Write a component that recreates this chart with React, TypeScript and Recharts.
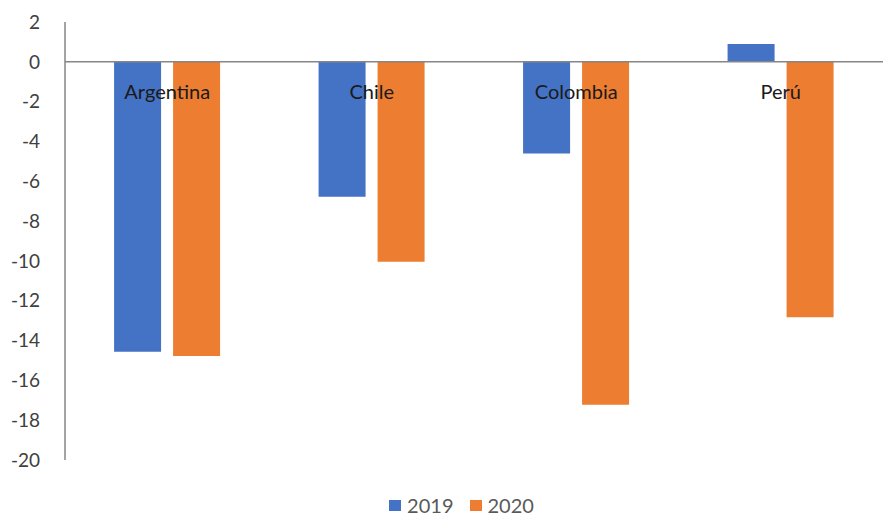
import { BarChart, Bar, XAxis, YAxis, ReferenceLine, Legend } from 'recharts';

const countries = ['Argentina', 'Chile', 'Colombia', 'Perú'];
const values2019 = [-14.56, -6.78, -4.61, 0.9];
const values2020 = [-14.77, -10.04, -17.22, -12.83];
const yTicks = [2, 0, -2, -4, -6, -8, -10, -12, -14, -16, -18, -20];

const BLUE = '#4472c4';
const ORANGE = '#ed7d31';
const FONT = 'Lato, "Open Sans", sans-serif';

const data = countries.map((name, i) => ({
  name,
  y2019: values2019[i],
  y2020: values2020[i],
}));

function CountryTick(props: any) {
  const { x, y, payload } = props;
  return (
    <text x={x} y={y} dy={85} textAnchor="middle" fill="#1a1a1a" fontSize={20} fontFamily={FONT}>
      {payload.value}
    </text>
  );
}

function LegendContent() {
  const items = [
    { label: '2019', color: BLUE },
    { label: '2020', color: ORANGE },
  ];
  return (
    <div
      style={{
        display: 'flex',
        justifyContent: 'center',
        gap: 16,
        paddingLeft: 40,
        fontFamily: FONT,
        fontSize: 20,
        lineHeight: '24px',
        color: '#595959',
        height: 24,
        alignItems: 'center',
      }}
    >
      {items.map((it) => (
        <span key={it.label} style={{ display: 'flex', alignItems: 'center' }}>
          <span style={{ width: 12, height: 11, background: it.color, marginRight: 6, display: 'inline-block' }} />
          {it.label}
        </span>
      ))}
    </div>
  );
}

export default function App() {
  return (
    <div style={{ position: 'absolute', left: 0, top: 0, background: '#fff' }}>
      <BarChart
        width={883}
        height={517}
        data={data}
        margin={{ top: 2, right: 0, left: 0, bottom: 33 }}
        barCategoryGap="24%"
        barGap={12}
      >
        <XAxis
          dataKey="name"
          orientation="top"
          height={20}
          axisLine={false}
          tickLine={false}
          tick={<CountryTick />}
          interval={0}
        />
        <YAxis
          domain={[-20, 2]}
          ticks={yTicks}
          interval={0}
          width={65}
          axisLine={{ stroke: '#868686', strokeWidth: 1.5 }}
          tickLine={false}
          tick={{ fill: '#404040', fontSize: 19, fontFamily: FONT }}
          tickMargin={19}
        />
        <ReferenceLine y={0} stroke="#868686" strokeWidth={1.5} />
        <Bar dataKey="y2019" name="2019" fill={BLUE} isAnimationActive={false} />
        <Bar dataKey="y2020" name="2020" fill={ORANGE} isAnimationActive={false} />
        <Legend
          verticalAlign="bottom"
          content={<LegendContent />}
          wrapperStyle={{ bottom: 0, height: 24 }}
        />
      </BarChart>
    </div>
  );
}
